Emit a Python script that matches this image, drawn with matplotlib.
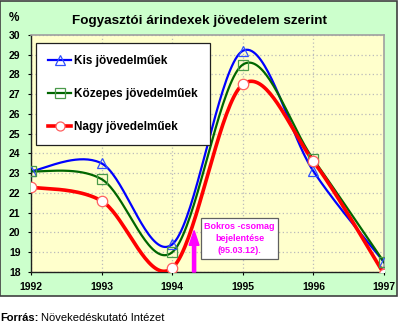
import numpy as np
import matplotlib
matplotlib.use("Agg")
import matplotlib.pyplot as plt
from matplotlib.patches import Rectangle, FancyArrow

plt.rcParams["font.family"] = ["Liberation Sans", "DejaVu Sans"]

years = [1992, 1993, 1994, 1995, 1996, 1997]
kis = [23.1, 23.5, 19.4, 29.2, 23.1, 18.5]
kozepes = [23.1, 22.7, 19.0, 28.5, 23.7, 18.5]
nagy = [22.3, 21.6, 18.2, 27.5, 23.6, 17.9]
labels = ["Kis jövedelműek", "Közepes jövedelműek", "Nagy jövedelműek"]
yticks = list(range(18, 31))


def smooth(x, y, n=40):
    """Bezier smoothing through the points (Catmull-Rom style tangents)."""
    x = np.asarray(x, float)
    y = np.asarray(y, float)
    px, py = [], []
    m = len(x)
    for i in range(m - 1):
        p0 = (x[max(i - 1, 0)], y[max(i - 1, 0)])
        p1 = (x[i], y[i])
        p2 = (x[i + 1], y[i + 1])
        p3 = (x[min(i + 2, m - 1)], y[min(i + 2, m - 1)])
        c1 = (p1[0] + (p2[0] - p0[0]) / 6, p1[1] + (p2[1] - p0[1]) / 6)
        c2 = (p2[0] - (p3[0] - p1[0]) / 6, p2[1] - (p3[1] - p1[1]) / 6)
        t = np.linspace(0, 1, n)
        b0 = (1 - t) ** 3
        b1 = 3 * (1 - t) ** 2 * t
        b2 = 3 * (1 - t) * t ** 2
        b3 = t ** 3
        px.extend(b0 * p1[0] + b1 * c1[0] + b2 * c2[0] + b3 * p2[0])
        py.extend(b0 * p1[1] + b1 * c1[1] + b2 * c2[1] + b3 * p2[1])
    return np.array(px), np.array(py)


fig = plt.figure(figsize=(4.0, 3.24), dpi=100)
fig.patch.set_facecolor("white")
fig.patches.append(Rectangle((0.0, 0.0864), 0.9925, 0.9116,
                             transform=fig.transFigure, facecolor="#CCFFCC",
                             edgecolor="#404040", linewidth=1.2, zorder=-5))

ax = fig.add_axes([0.0775, 0.1605, 0.8825, 0.7315])
ax.set_facecolor("#FFFFCC")
ax.set_xlim(1992, 1997)
ax.set_ylim(18, 30)
ax.set_yticks(yticks)
ax.set_xticks(years)
ax.grid(True, color="#BBBBBB", linestyle=(0, (1, 2)), linewidth=0.9)
ax.set_axisbelow(True)
for s in ["top", "right"]:
    ax.spines[s].set_color("#A0A0A0")
    ax.spines[s].set_linewidth(1.2)
for s in ["left", "bottom"]:
    ax.spines[s].set_color("#202020")
    ax.spines[s].set_linewidth(1.0)
ax.tick_params(axis="both", labelsize=7.5, length=2.5, width=0.8)
ax.tick_params(axis="y", pad=5)
ax.tick_params(axis="x", pad=5)
for lab in ax.get_xticklabels() + ax.get_yticklabels():
    lab.set_fontweight("bold")

series = [
    (kis, "#0000FF", "^", 1.6, 7.5, "none", "#3050FF"),
    (kozepes, "#006600", "s", 1.6, 7.5, "none", "#4A9A4A"),
    (nagy, "#FF0000", "o", 2.6, 7.5, "white", "#FF6060"),
]
handles = []
for (vals, col, mk, lw, ms, mfc, mec), lab in zip(series, labels):
    sx, sy = smooth(years, vals)
    ax.plot(sx, sy, color=col, linewidth=lw, zorder=3, clip_on=True)
    ax.plot(years, vals, linestyle="none", marker=mk, markersize=ms,
            markerfacecolor=mfc, markeredgecolor=mec, markeredgewidth=0.9,
            zorder=4, clip_on=True)
    h, = ax.plot([], [], color=col, linewidth=lw, marker=mk, markersize=ms - 1,
                 markerfacecolor=mfc, markeredgecolor=mec, markeredgewidth=0.9)
    handles.append(h)

leg = ax.legend(handles, labels, loc="upper left",
                bbox_to_anchor=(0.014, 0.966), frameon=True, fancybox=False,
                edgecolor="#202020", facecolor="white", framealpha=1,
                borderpad=1.05, borderaxespad=0, labelspacing=1.75,
                handlelength=1.9, handletextpad=0.25,
                prop={"size": 8.5, "weight": "bold"})
leg.get_frame().set_linewidth(0.9)

# Bokros package announcement marker
ax.add_patch(FancyArrow(1994.31, 18.0, 0, 2.1, width=0.045, head_width=0.14,
                        head_length=0.75, length_includes_head=True,
                        color="#FF00FF", zorder=5, clip_on=False))
ax.text(1994.953, 19.70, "Bokros -csomag\nbejelentése\n(95.03.12).",
        color="#FF00FF", fontsize=6.5, fontweight="bold", ha="center",
        va="center", linespacing=1.45, zorder=6,
        bbox=dict(boxstyle="square,pad=0.4", facecolor="white",
                  edgecolor="#606060", linewidth=0.9))

fig.text(0.5, 0.934, "Fogyasztói árindexek jövedelem szerint", ha="center",
         va="center", fontsize=9.7, fontweight="bold")
fig.text(0.022, 0.945, "%", ha="left", va="center", fontsize=8.5,
         fontweight="bold")
fig.text(0.0, 0.02, "Forrás:", ha="left", va="center", fontsize=8,
         fontweight="bold")
fig.text(0.102, 0.02, "Növekedéskutató Intézet", ha="left", va="center",
         fontsize=8)

fig.savefig("out.png", dpi=100)
